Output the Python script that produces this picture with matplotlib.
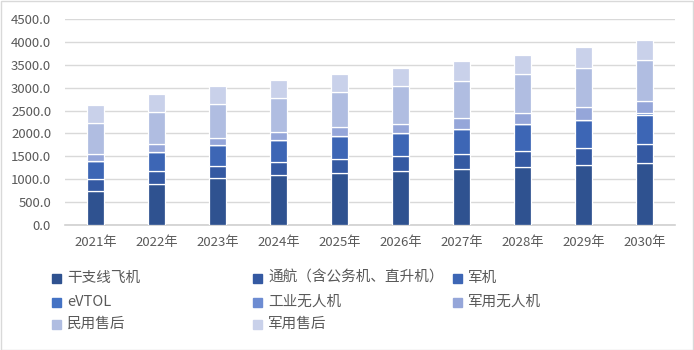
import matplotlib.pyplot as plt
import matplotlib.patches as mpatches
import numpy as np

plt.rcParams['font.family'] = ['Noto Sans CJK SC', 'DejaVu Sans']

years = ['2021年', '2022年', '2023年', '2024年', '2025年',
         '2026年', '2027年', '2028年', '2029年', '2030年']
names = ['干支线飞机', '通航（含公务机、直升机）', '军机', 'eVTOL',
         '工业无人机', '军用无人机', '民用售后', '军用售后']

trunk = [747, 900, 1024, 1090, 1133, 1177, 1220, 1264, 1307, 1351]
general = [262, 283, 275, 283, 305, 326, 334, 348, 371, 414]
military = [392, 414, 457, 479, 501, 502, 538, 589, 610, 632]
evtol = [0, 0, 0, 0, 0, 5, 5, 5, 8, 43]
ind_uav = [0, 0, 0, 0, 0, 0, 0, 0, 0, 0]
mil_uav = [153, 175, 153, 174, 196, 204, 235, 234, 275, 262]
civ_after = [675, 705, 728, 741, 763, 815, 806, 850, 850, 893]
mil_after = [386, 377, 405, 406, 405, 405, 449, 427, 471, 449]

series = [trunk, general, military, evtol, ind_uav, mil_uav, civ_after, mil_after]
colors = ['#2F5290', '#3459A2', '#3D66B5', '#4472C4',
          '#6D8CD2', '#95A6D9', '#B0BDE1', '#C9D1EA']

fig = plt.figure(figsize=(6.94, 3.5), dpi=100)
ax = fig.add_axes([65/694, 1-225/350, 610/694, 206/350])

x = np.arange(len(years))
bottom = np.zeros(len(years))
for vals, c in zip(series, colors):
    ax.bar(x, vals, 0.28, bottom=bottom, color=c, edgecolor='white', linewidth=0.9, zorder=3)
    bottom += np.array(vals)

ax.set_xlim(-0.5, len(years) - 0.5)
ax.set_ylim(0, 4500)
ax.set_yticks(np.arange(0, 4501, 500))
ax.set_yticklabels([f'{v:.1f}' for v in np.arange(0, 4501, 500)])
ax.set_xticks(x)
ax.set_xticklabels(years)
ax.tick_params(axis='both', length=0, labelsize=9.5, colors='#595959')
ax.tick_params(axis='y', pad=10)
ax.tick_params(axis='x', pad=8)
ax.grid(axis='y', color='#D9D9D9', linewidth=1, zorder=0)
for s in ['top', 'right', 'left']:
    ax.spines[s].set_visible(False)
ax.spines['bottom'].set_color('#D0D0D0')
ax.spines['bottom'].set_linewidth(1.2)

# legend laid out row by row like the original
col_x = [52, 253, 453]
row_y = [278, 302, 324]
for i, (n, c) in enumerate(zip(names, colors)):
    r, k = divmod(i, 3)
    px, py = col_x[k], row_y[r]
    fig.patches.append(mpatches.Rectangle((px/694, 1-(py+4.5)/350), 9/694, 9/350,
                                          transform=fig.transFigure, color=c))
    fig.text((px+15)/694, 1-py/350, n, fontsize=10.5, color='#595959', va='center', ha='left')

fig.patches.append(mpatches.Rectangle((0.5/694, 0.5/350), 692.5/694, 348.5/350, transform=fig.transFigure,
                                      fill=False, edgecolor='#D9D9D9', linewidth=1))

fig.savefig('out.png', dpi=100)
